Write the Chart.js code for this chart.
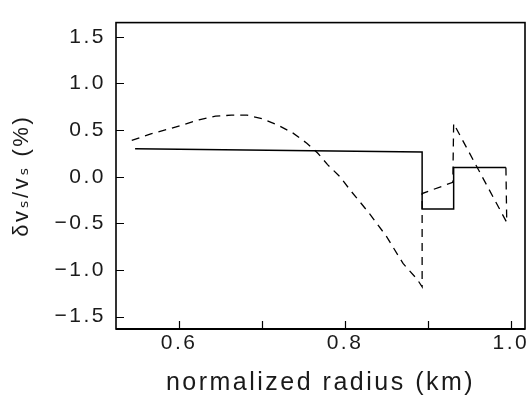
<!DOCTYPE html>
<html>
<head>
<meta charset="utf-8">
<script src="https://cdn.jsdelivr.net/npm/chart.js@4.4.1/dist/chart.umd.min.js"></script>
<style>
  html, body { margin: 0; padding: 0; background: #fff; }
</style>
</head>
<body>
<canvas id="c" width="530" height="402"></canvas>
<script>
// --- dati ---
const solidX = [0.547, 0.893, 0.893, 0.931, 0.931, 0.994];
const solidY = [0.30, 0.265, -0.347, -0.347, 0.10, 0.10];

const dashedX = [0.543, 0.566, 0.587, 0.606, 0.624, 0.644, 0.663, 0.682, 0.701, 0.720, 0.737, 0.754, 0.767, 0.779, 0.794, 0.806, 0.830, 0.850, 0.870, 0.887, 0.893,
                 0.893, 0.930, 0.931, 0.995, 0.994];
const dashedY = [0.39, 0.46, 0.51, 0.56, 0.61, 0.65, 0.66, 0.66, 0.62, 0.55, 0.47, 0.36, 0.255, 0.13, 0.0, -0.14, -0.40, -0.64, -0.93, -1.10, -1.18,
                 -0.18, -0.06, 0.57, -0.49, 0.10];

const xTicks = [0.6, 0.7, 0.8, 0.9, 1.0];
const xLabels = [0.6, 0.8, 1.0];
const yTicks = [-1.5, -1.0, -0.5, 0.0, 0.5, 1.0, 1.5];

const toPoints = (xs, ys) => xs.map((x, i) => ({ x: x, y: ys[i] }));

// spaziatura lettere + riquadro e tacche interne
const framePlugin = {
    id: 'frame',
    beforeDraw(chart) {
        chart.ctx.letterSpacing = '2.5px';
    },
    afterDatasetsDraw(chart) {
        const { ctx, chartArea: a, scales: { x, y } } = chart;
        ctx.save();
        ctx.strokeStyle = '#000';
        ctx.lineWidth = 1.2;
        ctx.beginPath();
        xTicks.forEach(v => {
            const px = Math.round(x.getPixelForValue(v)) + 0.5;
            ctx.moveTo(px, a.bottom);
            ctx.lineTo(px, a.bottom - 8);
        });
        yTicks.forEach(v => {
            const py = Math.round(y.getPixelForValue(v)) + 0.5;
            ctx.moveTo(a.left, py);
            ctx.lineTo(a.left + 8, py);
        });
        ctx.stroke();

        ctx.lineWidth = 1.6;
        ctx.strokeRect(a.left, a.top, a.right - a.left, a.bottom - a.top);
        ctx.lineWidth = 2.2;
        ctx.beginPath();
        ctx.moveTo(a.left, a.bottom);
        ctx.lineTo(a.right, a.bottom);
        ctx.stroke();
        ctx.restore();
    }
};

const fontFamily = '"Liberation Sans", Arial, "DejaVu Sans", sans-serif';

new Chart(document.getElementById('c').getContext('2d'), {
    type: 'line',
    data: {
        datasets: [
            {
                data: toPoints(solidX, solidY),
                borderColor: '#000',
                borderWidth: 1.5,
                pointRadius: 0,
                tension: 0,
                fill: false
            },
            {
                data: toPoints(dashedX, dashedY),
                borderColor: '#000',
                borderWidth: 1.3,
                borderDash: [8, 6],
                pointRadius: 0,
                tension: 0,
                fill: false
            }
        ]
    },
    options: {
        responsive: false,
        devicePixelRatio: 1,
        animation: false,
        layout: { padding: { top: 7, right: 5, left: 0, bottom: 0 } },
        plugins: {
            legend: { display: false },
            tooltip: { enabled: false }
        },
        scales: {
            x: {
                type: 'linear',
                min: 0.524,
                max: 1.017,
                afterBuildTicks: (scale) => { scale.ticks = xTicks.map(v => ({ value: v })); },
                afterFit: (scale) => { scale.height = 73; },
                grid: { display: false, drawTicks: false },
                border: { display: false },
                ticks: {
                    autoSkip: false,
                    maxRotation: 0,
                    padding: 2,
                    color: '#1a1a1a',
                    font: { family: fontFamily, size: 21 },
                    callback: (v) => xLabels.some(l => Math.abs(l - v) < 1e-6) ? v.toFixed(1) : ''
                },
                title: {
                    display: true,
                    text: 'normalized radius (km)',
                    color: '#1a1a1a',
                    font: { family: fontFamily, size: 25 },
                    padding: { top: 0, bottom: 4 }
                }
            },
            y: {
                type: 'linear',
                min: -1.633,
                max: 1.653,
                afterBuildTicks: (scale) => { scale.ticks = yTicks.map(v => ({ value: v })); },
                afterFit: (scale) => { scale.width = 116; },
                grid: { display: false, drawTicks: false },
                border: { display: false },
                ticks: {
                    autoSkip: false,
                    padding: 10,
                    color: '#1a1a1a',
                    font: { family: fontFamily, size: 21 },
                    callback: (v) => (v < 0 ? '\u2212' : '') + Math.abs(v).toFixed(1)
                },
                title: {
                    display: true,
                    text: '\u03b4v\u209b/v\u209b (%)',
                    color: '#1a1a1a',
                    font: { family: fontFamily, size: 22 },
                    padding: { top: 9, bottom: 0 }
                }
            }
        }
    },
    plugins: [framePlugin]
});
</script>
</body>
</html>
